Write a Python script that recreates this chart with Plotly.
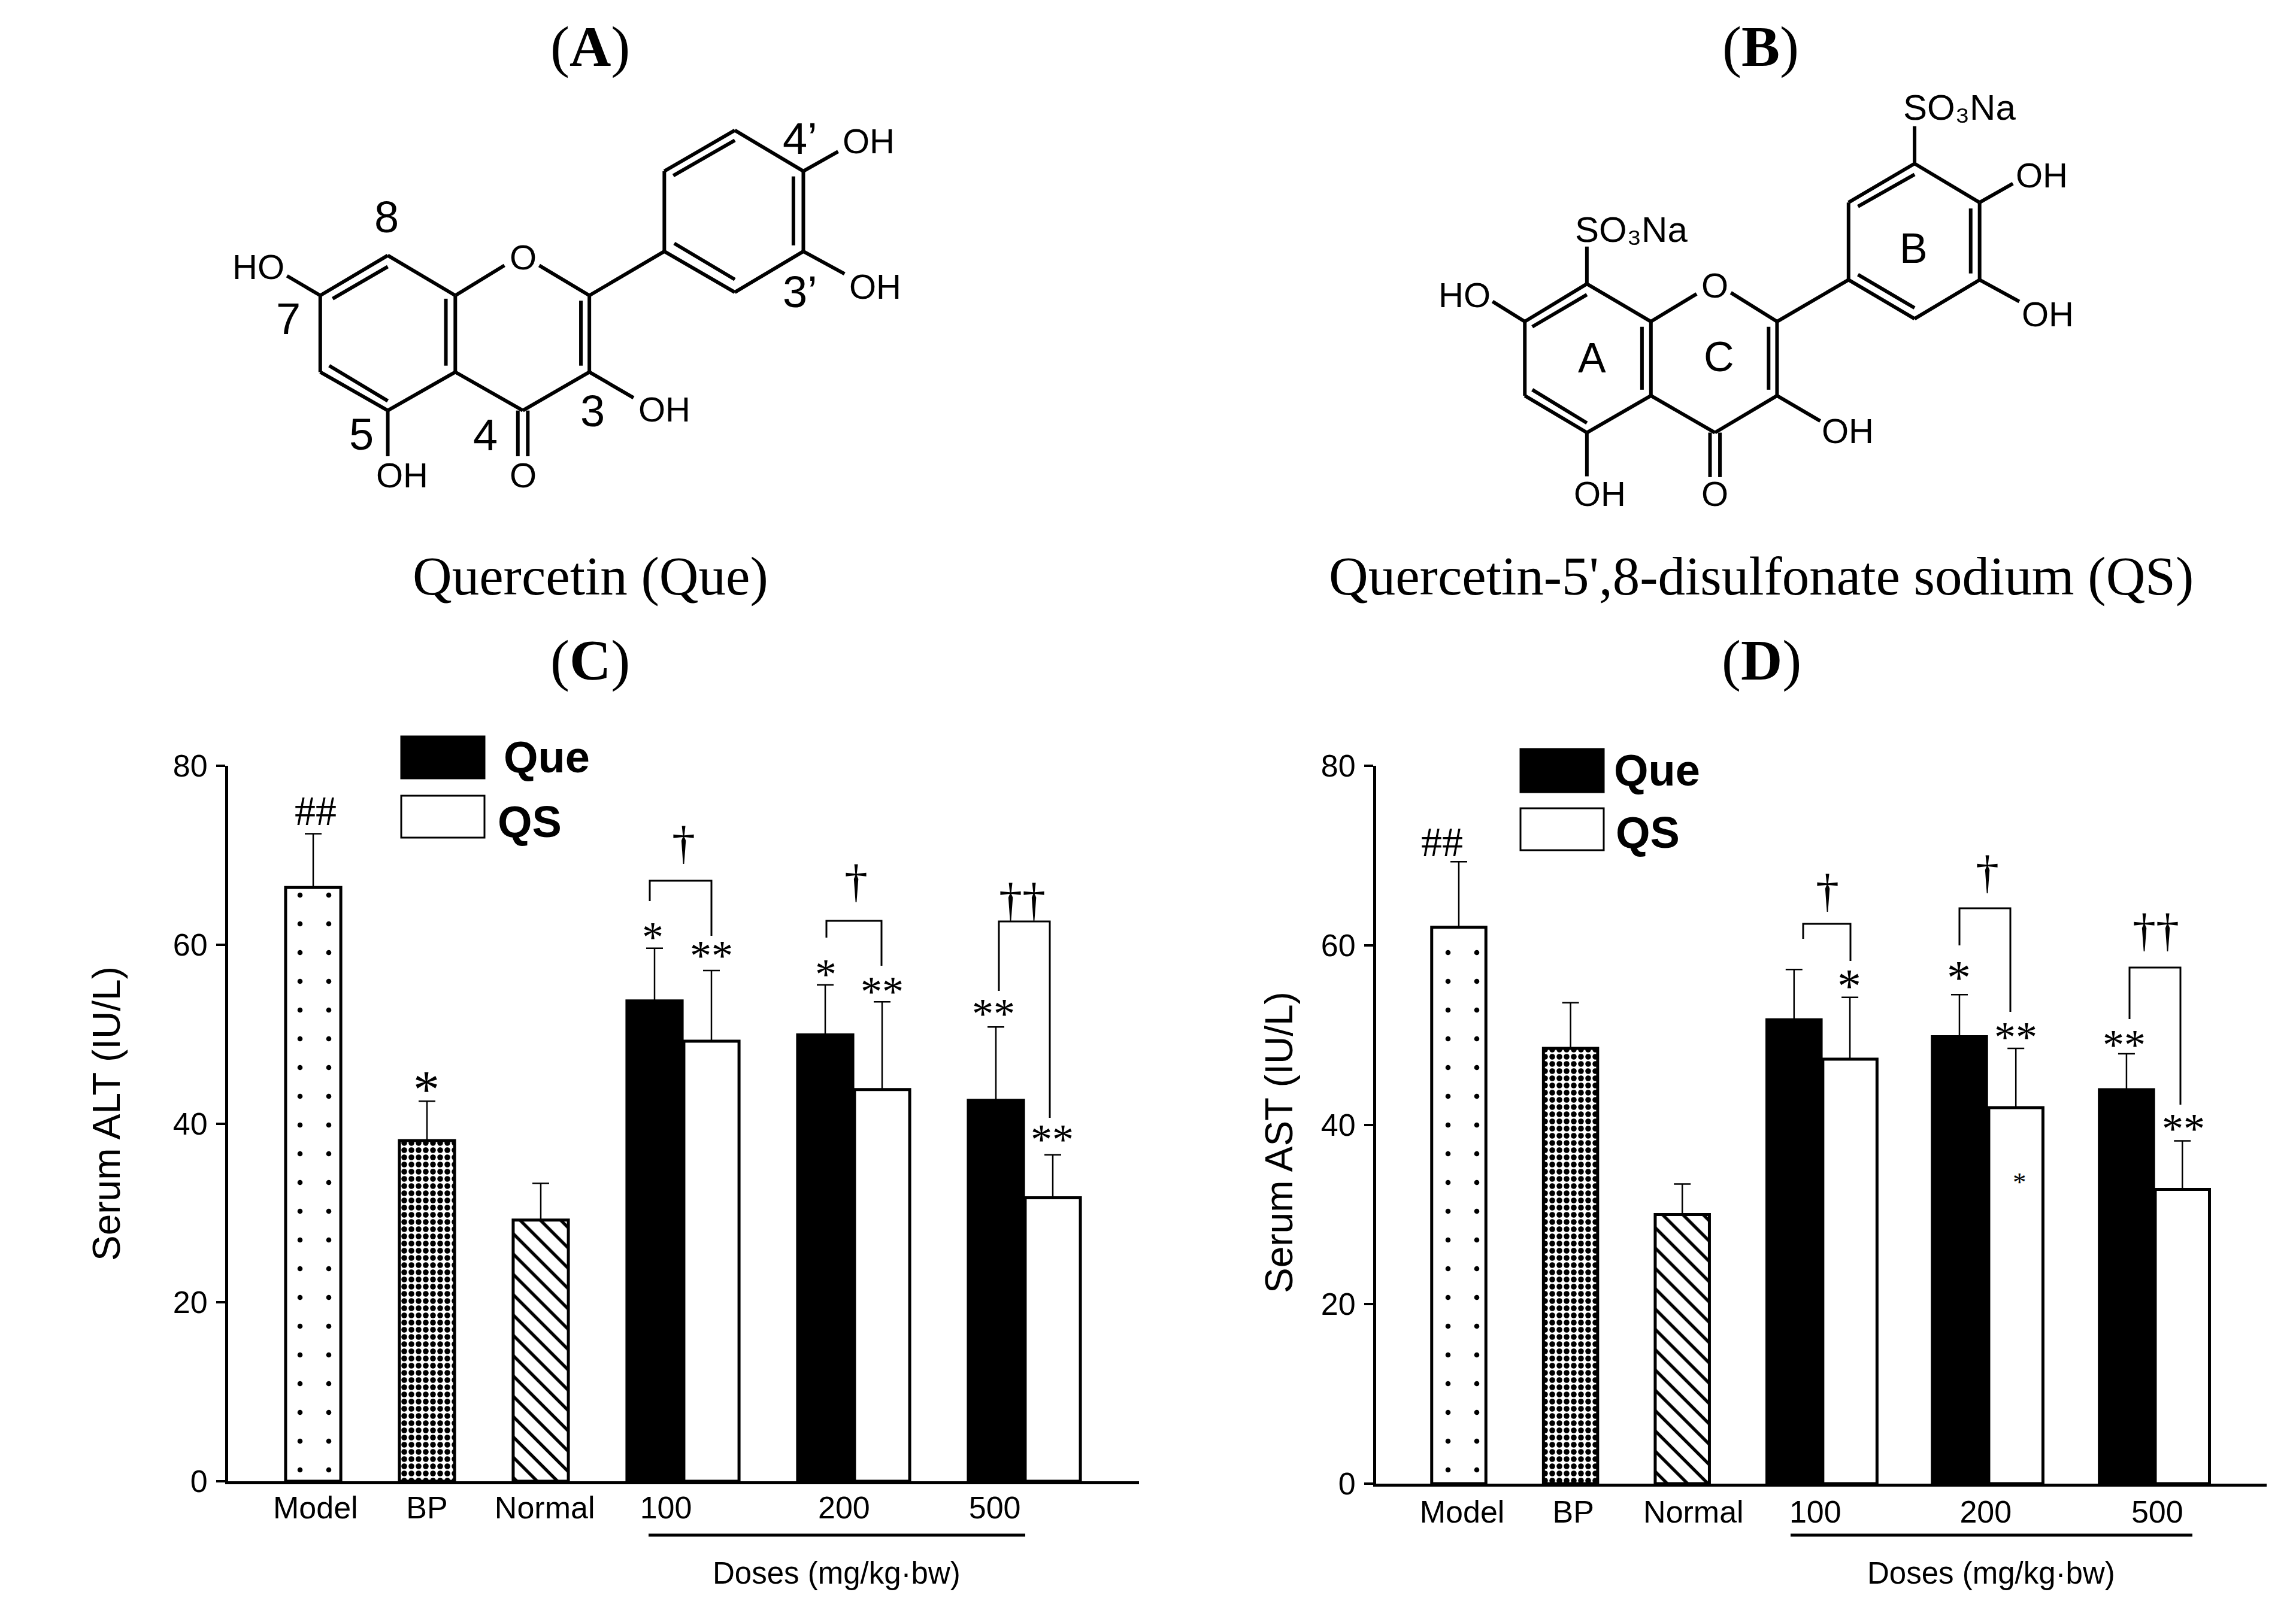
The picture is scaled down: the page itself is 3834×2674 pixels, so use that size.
import plotly.graph_objects as go

# ---------- data ----------
GROUP_LABELS = ["Model", "BP", "Normal", "100", "200", "500"]
ALT_CONTROL = [66.4, 38.1, 29.2]
ALT_CONTROL_ERR = [6.0, 4.4, 4.1]
ALT_QUE = [53.7, 49.9, 42.6]
ALT_QUE_ERR = [5.9, 5.6, 8.2]
ALT_QS = [49.2, 43.8, 31.7]
ALT_QS_ERR = [7.9, 9.8, 4.8]

AST_CONTROL = [62.0, 48.5, 30.0]
AST_CONTROL_ERR = [7.3, 5.1, 3.4]
AST_QUE = [51.7, 49.8, 43.9]
AST_QUE_ERR = [5.6, 4.7, 4.0]
AST_QS = [47.3, 41.9, 32.8]
AST_QS_ERR = [6.9, 6.6, 5.4]

Y_TICKS = [0, 20, 40, 60, 80]

# ---------- page geometry helpers ----------
W, H = 3834, 2674
SANS = "Liberation Sans"
SERIF = "Liberation Serif"


def px(x):
    return x / W


def py(y):
    return 1 - y / H


shapes = []
annotations = []


def line(x0, y0, x1, y1, width=5):
    shapes.append(dict(type="line", xref="paper", yref="paper", x0=px(x0), y0=py(y0),
                       x1=px(x1), y1=py(y1), line=dict(color="black", width=width)))


def polyline(pts, width=3):
    path = "M " + " L ".join(f"{px(x):.6f},{py(y):.6f}" for x, y in pts)
    shapes.append(dict(type="path", xref="paper", yref="paper", path=path,
                       line=dict(color="black", width=width)))


def rect(x0, y0, x1, y1, fill):
    shapes.append(dict(type="rect", xref="paper", yref="paper", x0=px(x0), y0=py(y0), x1=px(x1), y1=py(y1),
                       fillcolor=fill, line=dict(color="black", width=3)))


def note(x, y, text, size, family=SANS, anchor="center", angle=0, weight="normal"):
    annotations.append(dict(xref="paper", yref="paper", x=px(x), y=py(y), text=text, showarrow=False,
                            xanchor=anchor, yanchor="middle", textangle=angle, borderpad=0,
                            font=dict(family=family, size=size, color="black", weight=weight)))


def star(x, y, text="*", size=72):
    note(x, y + 0.133 * size, text, size, SERIF)


# ---------- chemical structures (page drawing, not data) ----------
def structure(ox, sx, sy, bonds):
    for b in bonds:
        line(ox + sx * b[0], sy * b[1], ox + sx * b[2], sy * b[3], 6)


A_BONDS = [
    (247, 737, 383, 637), (383, 637, 519, 737), (519, 737, 519, 928), (519, 928, 383, 1024),
    (383, 1024, 247, 928), (247, 928, 247, 737), (519, 737, 618, 662), (688, 662, 789, 737),
    (789, 737, 789, 928), (789, 928, 655, 1024), (655, 1024, 519, 928), (789, 737, 940, 627),
    (940, 627, 940, 427), (940, 427, 1082, 325), (1082, 325, 1220, 427), (1220, 427, 1220, 627),
    (1220, 627, 1082, 729), (1082, 729, 940, 627), (247, 737, 180, 688), (383, 1024, 383, 1138),
    (645, 1024, 645, 1138), (665, 1024, 665, 1138), (789, 928, 878, 992), (1220, 427, 1290, 378),
    (1220, 627, 1303, 683), (272, 745, 383, 665), (265, 912, 383, 1000), (500, 745, 500, 912),
    (772, 750, 772, 912), (960, 607, 1082, 697), (958, 438, 1082, 350), (1200, 440, 1200, 612),
]
B_BONDS = [
    (297, 802, 422, 708), (422, 708, 551, 802), (551, 802, 551, 987), (551, 987, 422, 1079),
    (422, 1079, 297, 987), (297, 987, 297, 802), (551, 802, 643, 733), (712, 730, 805, 802),
    (805, 802, 805, 987), (805, 987, 680, 1079), (680, 1079, 551, 987), (805, 802, 949, 698),
    (949, 698, 949, 505), (949, 505, 1082, 408), (1082, 408, 1213, 505), (1213, 505, 1213, 698),
    (1213, 698, 1082, 795), (1082, 795, 949, 698), (422, 708, 422, 615), (1082, 408, 1082, 315),
    (297, 802, 232, 752), (422, 1079, 422, 1188), (670, 1079, 670, 1190), (690, 1079, 690, 1190),
    (805, 987, 892, 1050), (1213, 505, 1280, 458), (1213, 698, 1293, 752), (312, 815, 422, 735),
    (312, 972, 422, 1055), (533, 815, 533, 972), (788, 815, 788, 972), (968, 685, 1082, 768),
    (968, 515, 1082, 435), (1195, 520, 1195, 682),
]
SX, SY = 1300 / 1568, 1050 / 1568
structure(330, SX, SY, A_BONDS)
structure(2300, SX, SY, B_BONDS)

for zx, zy, t, s in [
    (122, 665, "HO", 58), (655, 642, "O", 58), (1352, 352, "OH", 58), (1365, 715, "OH", 58),
    (940, 1020, "OH", 58), (412, 1185, "OH", 58), (655, 1185, "O", 58),
    (380, 542, "8", 74), (183, 795, "7", 74), (330, 1083, "5", 74), (580, 1085, "4", 74),
    (796, 1025, "3", 74), (1213, 345, "4’", 74), (1213, 728, "3’", 74),
]:
    note(330 + SX * zx, SY * zy, t, s)

for zx, zy, t, s in [
    (1172, 268, "SO₃Na", 60), (512, 572, "SO₃Na", 60), (175, 735, "HO", 58),
    (680, 712, "O", 58), (1338, 437, "OH", 58), (1350, 783, "OH", 58), (948, 1075, "OH", 58),
    (448, 1232, "OH", 58), (680, 1232, "O", 58), (432, 893, "A", 70), (688, 890, "C", 70),
    (1080, 620, "B", 70),
]:
    note(2300 + SX * zx, SY * zy, t, s)

for x, y, t in [(985, 78, "A"), (2940, 78, "B"), (985, 1102, "C"), (2941, 1102, "D")]:
    note(x, y, f"(<b>{t}</b>)", 96, SERIF)
note(986, 963, "Quercetin (Que)", 91, SERIF)
note(2941, 963, "Quercetin-5',8-disulfonate sodium (QS)", 91, SERIF)

# ---------- panel C furniture ----------
note(178, 1860, "Serum ALT (IU/L)", 64, SANS, angle=-90)
rect(670, 1230, 809, 1300, "black")
rect(670, 1329, 809, 1399, "white")
note(840, 1265, "Que", 74, SANS, "left", weight="bold")
note(830, 1372, "QS", 74, SANS, "left", weight="bold")
line(1083, 2564, 1712, 2564, 5)
note(1397, 2627, "Doses (mg/kg·bw)", 51)
note(527, 1354, "##", 70, SERIF)
star(712, 1808, size=88)
star(1090, 1555)
star(1188, 1586, "**")
star(1379, 1617)
star(1473, 1646, "**")
star(1659, 1683, "**")
star(1757, 1893, "**")
note(1141, 1407, "†", 78, SERIF)
note(1429, 1472, "†", 78, SERIF)
note(1707, 1502, "††", 78, SERIF)
polyline([(1085, 1505), (1085, 1471), (1188, 1471), (1188, 1563)])
polyline([(1380, 1566), (1380, 1538), (1472, 1538), (1472, 1613)])
polyline([(1668, 1655), (1668, 1539), (1753, 1539), (1753, 1867)])

# ---------- panel D furniture ----------
note(2136, 1908, "Serum AST (IU/L)", 64, SANS, angle=-90)
rect(2539, 1251, 2678, 1323, "black")
rect(2539, 1350, 2678, 1420, "white")
note(2694, 1286, "Que", 74, SANS, "left", weight="bold")
note(2697, 1390, "QS", 74, SANS, "left", weight="bold")
line(2990, 2564, 3661, 2564, 5)
note(3325, 2627, "Doses (mg/kg·bw)", 51)
note(2408, 1406, "##", 70, SERIF)
star(3088, 1636, size=80)
star(3271, 1622, size=80)
star(3366, 1722, "**")
star(3372, 1968, size=45)
star(3547, 1735, "**")
star(3646, 1875, "**")
note(3051, 1487, "†", 78, SERIF)
note(3318, 1456, "†", 78, SERIF)
note(3600, 1553, "††", 78, SERIF)
polyline([(3011, 1568), (3011, 1543), (3090, 1543), (3090, 1605)])
polyline([(3272, 1579), (3272, 1517), (3357, 1517), (3357, 1690)])
polyline([(3556, 1702), (3556, 1616), (3641, 1616), (3641, 1845)])

# ---------- bar panels ----------
CTRL_SLOTS = [0, 2, 4]
SLOTS_C = dict(que=[6, 9, 12], qs=[7, 10, 13], ticks=[0.04, 2.0, 4.07, 6.2, 9.33, 11.98])
SLOTS_D = dict(que=[6, 8.96, 11.95], qs=[7, 9.97, 12.95], ticks=[0.06, 2.05, 4.2, 6.38, 9.43, 12.5])

PATTERN = dict(shape=[".", ".", "\\"], size=[48, 12, 24], solidity=[0.025, 0.5, 0.22],
               fgcolor="black", bgcolor="white", fillmode="replace")


def bars(fig, axis, ctrl, ctrl_err, que, que_err, qs, qs_err, slots):
    common = dict(xaxis="x" + axis, yaxis="y" + axis, width=0.97)
    err = lambda v: dict(type="data", symmetric=False, array=v, arrayminus=[0] * len(v),
                         color="black", thickness=2.5, width=14)
    edge = dict(color="black", width=5)
    fig.add_trace(go.Bar(x=CTRL_SLOTS, y=ctrl, name="Controls", error_y=err(ctrl_err),
                         marker=dict(color="white", line=edge, pattern=PATTERN), **common))
    fig.add_trace(go.Bar(x=slots["que"], y=que, name="Que", error_y=err(que_err),
                         marker=dict(color="black", line=edge), **common))
    fig.add_trace(go.Bar(x=slots["qs"], y=qs, name="QS", error_y=err(qs_err),
                         marker=dict(color="white", line=edge), **common))


fig = go.Figure()
bars(fig, "", ALT_CONTROL, ALT_CONTROL_ERR, ALT_QUE, ALT_QUE_ERR, ALT_QS, ALT_QS_ERR, SLOTS_C)
bars(fig, "2", AST_CONTROL, AST_CONTROL_ERR, AST_QUE, AST_QUE_ERR, AST_QS, AST_QS_ERR, SLOTS_D)


def xaxis(left, right, origin, unit, ticks, anchor, standoff):
    return dict(domain=[left / W, right / W], range=[(left - origin) / unit, (right - origin) / unit],
                anchor=anchor, showgrid=False, zeroline=False, showline=True, linecolor="black", linewidth=5,
                ticks="", tickmode="array", tickvals=ticks, ticktext=GROUP_LABELS, ticklabelstandoff=standoff,
                tickfont=dict(family=SANS, size=52, color="black"))


def yaxis(top, bottom, anchor):
    return dict(domain=[1 - bottom / H, 1 - top / H], range=[0, 80], anchor=anchor, showgrid=False,
                zeroline=False, showline=True, linecolor="black", linewidth=5, ticks="outside", ticklen=15,
                tickwidth=4, tickcolor="black", tickmode="array", tickvals=Y_TICKS, ticklabelstandoff=4,
                tickfont=dict(family=SANS, size=52, color="black"))


fig.update_layout(
    width=W, height=H, margin=dict(l=0, r=0, t=0, b=0, pad=0, autoexpand=False), autosize=False,
    paper_bgcolor="white", plot_bgcolor="white", barmode="overlay", showlegend=False,
    xaxis=xaxis(381, 1902, 523, 95, SLOTS_C["ticks"], "y", -5),
    yaxis=yaxis(1279, 2474, "x"),
    xaxis2=xaxis(2298, 3785, 2436, 93.3, SLOTS_D["ticks"], "y2", -2),
    yaxis2=yaxis(1279, 2478, "x2"),
    shapes=shapes, annotations=annotations,
)

fig.write_html("out.html", config=dict(displayModeBar=False),
               post_script="document.body.style.margin='0';document.body.style.overflow='hidden';")
